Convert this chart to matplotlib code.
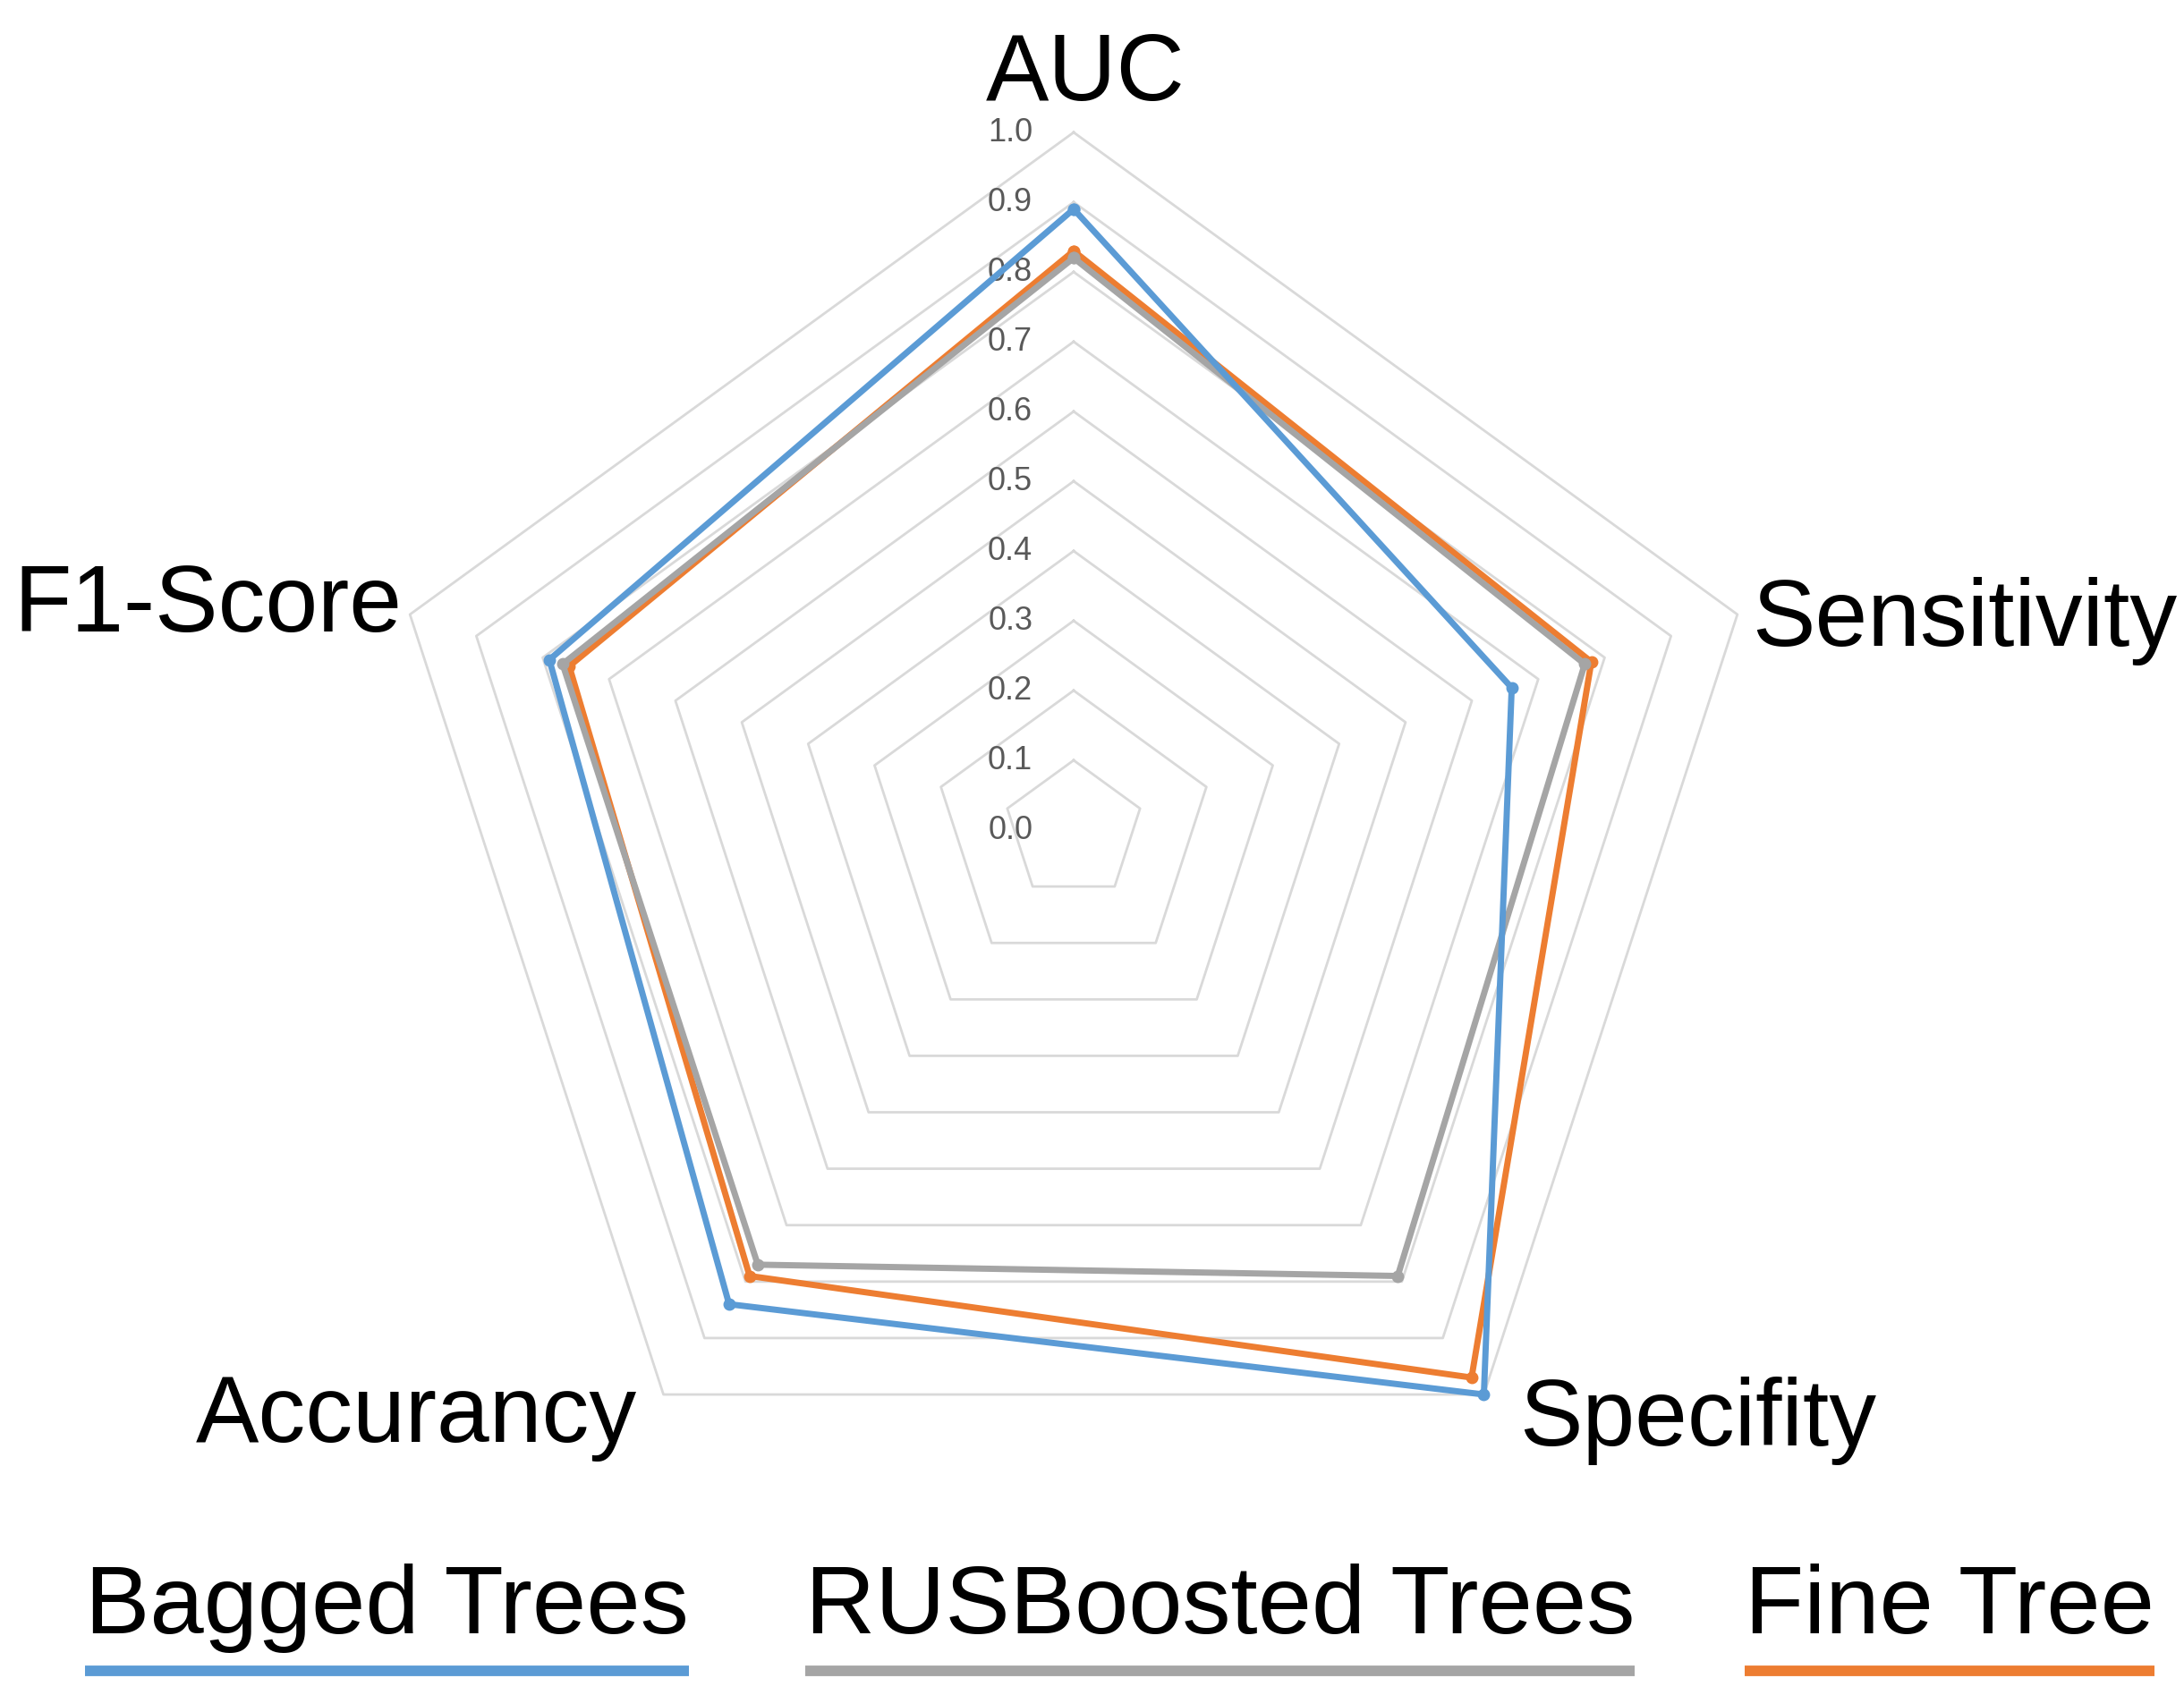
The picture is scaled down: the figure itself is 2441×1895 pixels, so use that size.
import numpy as np
import matplotlib
matplotlib.use('Agg')
import matplotlib.pyplot as plt
from matplotlib.lines import Line2D

# Radar chart: metrics of three classifiers
metrics = ['AUC', 'Sensitivity', 'Specifity', 'Accurancy', 'F1-Score']
bagged = [0.89, 0.66, 1.00, 0.84, 0.79]
rusboost = [0.82, 0.77, 0.79, 0.77, 0.77]
fine_tree = [0.83, 0.78, 0.97, 0.79, 0.76]
series_names = ['Bagged Trees', 'RUSBoosted Trees', 'Fine Tree']
ring_levels = [0.1, 0.2, 0.3, 0.4, 0.5, 0.6, 0.7, 0.8, 0.9, 1.0]
tick_levels = [0.0, 0.1, 0.2, 0.3, 0.4, 0.5, 0.6, 0.7, 0.8, 0.9, 1.0]

colors = {'Bagged Trees': '#5B9BD5', 'RUSBoosted Trees': '#A5A5A5', 'Fine Tree': '#ED7D31'}

W, H, DPI = 2441, 1895, 100
plt.rcParams['font.family'] = ['Liberation Sans', 'DejaVu Sans']

fig = plt.figure(figsize=(W / DPI, H / DPI), dpi=DPI)
fig.patch.set_facecolor('white')

# polar axes centred at (1200, 928) px, radius 780 px
cx, cy, R = 1200, 928, 780
ax = fig.add_axes([(cx - R) / W, (H - cy - R) / H, 2 * R / W, 2 * R / H], projection='polar')
ax.set_theta_offset(np.pi / 2)
ax.set_theta_direction(-1)
ax.set_ylim(0, 1.0)
ax.axis('off')

angles = np.linspace(0, 2 * np.pi, len(metrics), endpoint=False)
closed = np.append(angles, angles[0])

# pentagon grid rings
for lv in ring_levels:
    ax.plot(closed, [lv] * len(closed), color='#d9d9d9', lw=2, clip_on=False, zorder=1)

# radial tick labels along the top spoke
for lv in tick_levels:
    ax.annotate(f'{lv:.1f}', xy=(0, lv), xytext=(-33, 0), textcoords='offset points',
                ha='right', va='center', fontsize=26, color='#595959', zorder=2,
                annotation_clip=False)

# series, drawn so grey sits above orange and blue on top
for name, vals in [('Fine Tree', fine_tree), ('RUSBoosted Trees', rusboost), ('Bagged Trees', bagged)]:
    v = np.append(vals, vals[0])
    ax.plot(closed, v, color=colors[name], lw=5, marker='o', markersize=9,
            clip_on=False, zorder=3)

# category labels (pixel positions of text anchors)
def px(x, y):
    return x / W, 1 - y / H

lab_size = 76
leg_size = 78
label_pos = {
    'AUC': (1213, 112, 'center'),
    'Sensitivity': (1958, 722, 'left'),
    'Specifity': (1698, 1616, 'left'),
    'Accurancy': (712, 1612, 'right'),
    'F1-Score': (449, 706, 'right'),
}
for m in metrics:
    x, y, ha = label_pos[m]
    fig.text(*px(x, y), m, ha=ha, va='baseline', fontsize=lab_size, color='black')

# custom legend: text with a thick coloured bar underneath
leg_left = [95, 900, 1950]
renderer = fig.canvas.get_renderer()
for name, x0 in zip(series_names, leg_left):
    t = fig.text(*px(x0, 1826), name, ha='left', va='baseline', fontsize=leg_size, color='black')
    bb = t.get_window_extent(renderer=renderer)
    y_line = 1 - 1868 / H
    fig.add_artist(Line2D([bb.x0 / W, bb.x1 / W], [y_line, y_line], color=colors[name],
                          lw=8.5, solid_capstyle='butt', transform=fig.transFigure))

fig.savefig('out.png', dpi=DPI, facecolor='white')
